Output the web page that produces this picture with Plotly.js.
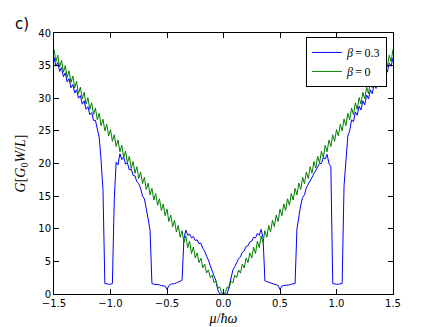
<!DOCTYPE html>
<html>
<head>
<meta charset="utf-8">
<script src="https://cdn.plot.ly/plotly-3.0.1.min.js"></script>
<style>
  html, body { margin: 0; padding: 0; background: #fff; }
  #chart { width: 436px; height: 327px; }
</style>
</head>
<body>
<div id="chart"></div>
<script>
// sampling of mu/hbar*omega: first value and step between samples
const muStart = -1.5;
const muStep = 1 / 60;

// conductance, beta = 0.3 (blue)
const gBeta03 = [
  36.3, 34.9, 35.5, 34.1, 34.7, 33.3, 33.9, 32.5, 33.0, 31.6,
  32.1, 30.8, 31.3, 30.0, 30.4, 29.1, 29.6, 28.3, 28.7, 27.5,
  27.8, 26.6, 26.6, 25.2, 24.0, 20.5, 16.0, 1.6, 1.5, 1.5,
  1.5, 1.6, 14.5, 20.2, 19.8, 21.5, 20.6, 21.0, 19.9, 20.1,
  19.0, 19.2, 18.2, 18.1, 17.2, 16.9, 16.2, 15.0, 14.6, 13.3,
  11.5, 9.8, 1.6, 1.5, 1.5, 1.4, 1.4, 1.3, 1.3, 1.2,
  0.7, 1.3, 1.5, 1.5, 1.6, 1.7, 1.8, 1.9, 2.1, 8.5,
  9.8, 9.0, 9.2, 8.6, 8.8, 8.2, 8.3, 7.7, 7.8, 7.0,
  6.6, 5.8, 5.2, 4.3, 3.6, 2.9, 2.0, 0.6, 0, 0,
  0,
  0, 0, 1.2, 2.6, 3.7, 4.2, 4.9, 5.4, 5.7, 6.4,
  6.6, 7.3, 7.4, 8.0, 8.1, 8.7, 8.6, 9.3, 9.0, 9.9,
  8.6, 2.0, 1.9, 1.8, 1.7, 1.6, 1.5, 1.5, 1.3, 0.7,
  1.2, 1.3, 1.3, 1.4, 1.4, 1.5, 1.5, 1.6, 10.0, 12.0,
  13.6, 14.8, 15.2, 16.3, 16.8, 17.3, 18.0, 18.4, 19.0, 19.3,
  20.0, 20.0, 20.9, 20.7, 21.4, 20.0, 19.5, 1.6, 1.5, 1.5,
  1.5, 1.5, 1.6, 16.5, 20.8, 24.2, 25.0, 26.7, 26.4, 27.9,
  27.4, 28.8, 28.2, 29.6, 29.0, 30.5, 29.9, 31.3, 30.7, 32.2,
  31.5, 33.0, 32.4, 33.8, 33.2, 34.7, 34.0, 35.4, 34.9, 36.2
];

// conductance, beta = 0 (green)
const gBeta0 = [
  37.5, 35.6, 36.6, 34.8, 35.8, 34.0, 35.0, 33.2, 34.2, 32.4,
  33.4, 31.6, 32.6, 30.7, 31.7, 29.9, 30.9, 29.1, 30.1, 28.3,
  29.3, 27.5, 28.5, 26.7, 27.7, 25.8, 26.8, 25.0, 26.0, 24.2,
  25.2, 23.4, 24.4, 22.6, 23.6, 21.8, 22.8, 20.9, 21.9, 20.1,
  21.1, 19.3, 20.3, 18.5, 19.5, 17.7, 18.7, 16.9, 17.9, 16.0,
  17.0, 15.2, 16.2, 14.4, 15.4, 13.6, 14.6, 12.8, 13.8, 12.0,
  13.0, 11.1, 12.1, 10.3, 11.3, 9.5, 10.5, 8.7, 9.7, 7.9,
  8.9, 7.1, 8.1, 6.2, 7.2, 5.5, 6.3, 4.8, 5.5, 4.0,
  4.6, 3.2, 3.7, 2.5, 2.9, 1.7, 2.0, 0.9, 1.1, 0.2,
  0.1,
  0.2, 1.1, 0.9, 2.0, 1.7, 2.9, 2.5, 3.7, 3.2, 4.6,
  4.0, 5.5, 4.8, 6.3, 5.5, 7.2, 6.2, 8.1, 7.1, 8.9,
  7.9, 9.7, 8.7, 10.5, 9.5, 11.3, 10.3, 12.1, 11.1, 13.0,
  12.0, 13.8, 12.8, 14.6, 13.6, 15.4, 14.4, 16.2, 15.2, 17.0,
  16.0, 17.9, 16.9, 18.7, 17.7, 19.5, 18.5, 20.3, 19.3, 21.1,
  20.1, 21.9, 20.9, 22.8, 21.8, 23.6, 22.6, 24.4, 23.4, 25.2,
  24.2, 26.0, 25.0, 26.8, 25.8, 27.7, 26.7, 28.5, 27.5, 29.3,
  28.3, 30.1, 29.1, 30.9, 29.9, 31.7, 30.7, 32.6, 31.6, 33.4,
  32.4, 34.2, 33.2, 35.0, 34.0, 35.8, 34.8, 36.6, 35.6, 37.5
];

const seriesNames = ['<i>β</i>\u2009=\u20090.3', '<i>β</i>\u2009=\u20090'];
const seriesColors = ['#0000ff', '#008000'];
const xTicks = [-1.5, -1.0, -0.5, 0.0, 0.5, 1.0, 1.5];
const yTicks = [0, 5, 10, 15, 20, 25, 30, 35, 40];

const sans = 'DejaVu Sans, sans-serif';
const serif = 'Liberation Serif, DejaVu Serif, serif';

const data = [gBeta03, gBeta0].map((ys, k) => ({
    type: 'scatter',
    mode: 'lines',
    x0: muStart,
    dx: muStep,
    y: ys,
    name: seriesNames[k],
    line: { color: seriesColors[k], width: 1 },
    hoverinfo: 'skip'
}));

const axisBase = {
    showgrid: false,
    zeroline: false,
    showline: true,
    linecolor: '#000',
    linewidth: 1,
    mirror: 'ticks',
    ticks: 'inside',
    ticklen: 5,
    tickwidth: 1,
    tickcolor: '#000',
    tickfont: { family: sans, size: 10, color: '#000' }
};

const layout = {
    width: 436,
    height: 327,
    margin: { l: 54, r: 43, t: 33, b: 33 },
    paper_bgcolor: '#fff',
    plot_bgcolor: '#fff',
    showlegend: true,
    xaxis: Object.assign({}, axisBase, {
        range: [-1.5, 1.5],
        tickvals: xTicks,
        tickformat: '.1f',
        title: { text: '<i>μ</i>/<i>ħω</i>', font: { family: serif, size: 14, color: '#000' }, standoff: 5 }
    }),
    yaxis: Object.assign({}, axisBase, {
        range: [0, 40],
        tickvals: yTicks,
        title: { text: '<i>G</i>[<i>G</i><sub>0</sub><i>W</i>/<i>L</i>]', font: { family: serif, size: 14, color: '#000' }, standoff: 9 }
    }),
    legend: {
        x: 0.982, y: 0.985,
        xanchor: 'right', yanchor: 'top',
        bgcolor: '#fff',
        bordercolor: '#000',
        borderwidth: 1,
        font: { family: serif, size: 12, color: '#000' },
        tracegroupgap: 0
    },
    annotations: [{
        text: 'c)',
        xref: 'paper', yref: 'paper',
        x: -0.12, y: 1.035,
        xanchor: 'left', yanchor: 'middle',
        showarrow: false,
        font: { family: sans, size: 15, color: '#000' }
    }]
};

Plotly.newPlot('chart', data, layout, { displayModeBar: false, staticPlot: true });
</script>
</body>
</html>
